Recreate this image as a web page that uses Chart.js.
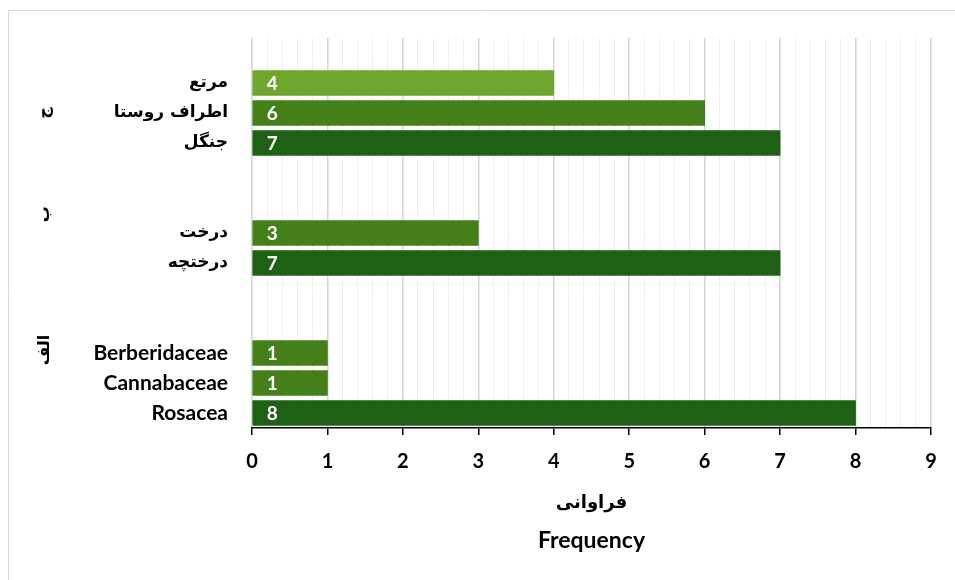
<!DOCTYPE html>
<html>
<head>
<meta charset="utf-8">
<script src="https://cdn.jsdelivr.net/npm/chart.js@4"></script>
<style>
  html, body { margin: 0; padding: 0; background: #fff; }
  #wrap { width: 955px; height: 580px; }
</style>
</head>
<body>
<div id="wrap"><canvas id="myChart" width="955" height="580"></canvas></div>
<script>
"use strict";
// Categories (blank slots separate the groups)
const categories = ["", "مرتع", "اطراف روستا", "جنگل", "", "", "درخت", "درختچه", "", "", "Berberidaceae", "Cannabaceae", "Rosacea"];
const frequency = [null, 4, 6, 7, null, null, 3, 7, null, null, 1, 1, 8];
const barColors = ["#fff", "#6ea62e", "#447f1a", "#1e6114", "#fff", "#fff", "#447f1a", "#1e6114", "#fff", "#fff", "#447f1a", "#447f1a", "#1e6114"];
const groupLabels = ["ج", "ب", "الف"];
const groupAnchors = [2, 5.37, 9.9];
const axisTitle = ["فراوانی", "Frequency"];

const LATIN = "Lato, 'DejaVu Sans', sans-serif";
const ARABIC = "'DejaVu Sans', sans-serif";
const isInt = v => Math.abs(v - Math.round(v)) < 1e-6;
const isLatin = s => /^[A-Za-z]/.test(s);

// Extras: frame, value labels, group labels, axis title
const extras = {
    id: "extras",
    beforeDraw(chart) {
        const ctx = chart.ctx;
        ctx.save();
        ctx.strokeStyle = "#d9d9d9";
        ctx.lineWidth = 1;
        ctx.beginPath();
        ctx.moveTo(8.5, 580);
        ctx.lineTo(8.5, 10.5);
        ctx.lineTo(955, 10.5);
        ctx.stroke();
        ctx.restore();
    },
    afterDatasetsDraw(chart) {
        const ctx = chart.ctx;
        const meta = chart.getDatasetMeta(0);
        const yScale = chart.scales.y;
        const area = chart.chartArea;
        ctx.save();
        ctx.font = "bold 19px " + LATIN;
        ctx.fillStyle = "#ffffff";
        ctx.textAlign = "left";
        ctx.textBaseline = "middle";
        meta.data.forEach((bar, i) => {
            if (frequency[i] == null) return;
            ctx.fillText(String(frequency[i]), bar.base + 14, bar.y + 1);
        });
        ctx.fillStyle = "#000";
        ctx.font = "bold 16px " + ARABIC;
        ctx.textAlign = "center";
        groupLabels.forEach((t, i) => {
            const y = yScale.getPixelForValue(groupAnchors[i]);
            ctx.save();
            ctx.translate(45, y);
            ctx.rotate(-Math.PI / 2);
            ctx.fillText(t, 0, 0);
            ctx.restore();
        });
        const cx = (area.left + area.right) / 2;
        ctx.font = "bold 18px " + ARABIC;
        ctx.fillText(axisTitle[0], cx, 503);
        ctx.font = "bold 23px " + LATIN;
        ctx.fillText(axisTitle[1], cx, 541);
        ctx.restore();
    }
};

const data = {
    labels: categories,
    datasets: [
        {
            label: "Frequency",
            data: frequency,
            backgroundColor: barColors,
            barThickness: 25,
        },
    ],
};

const config = {
    type: "bar",
    data: data,
    options: {
        indexAxis: "y",
        responsive: false,
        animation: false,
        layout: { padding: { top: 38, right: 24, bottom: 0, left: 0 } },
        scales: {
            x: {
                min: 0,
                max: 9,
                ticks: {
                    stepSize: 0.2,
                    autoSkip: false,
                    maxRotation: 0,
                    padding: 15,
                    color: "#000",
                    font: { family: LATIN, size: 20, weight: "bold" },
                    callback: v => isInt(v) ? String(Math.round(v)) : "",
                },
                grid: {
                    color: ctx => isInt(ctx.tick.value) ? "#d4d4d4" : "#eeeeee",
                    tickColor: ctx => isInt(ctx.tick.value) ? "#000" : "rgba(0,0,0,0)",
                    tickLength: 7,
                    lineWidth: ctx => isInt(ctx.tick.value) ? 1.5 : 1,
                },
                border: { display: true, color: "#000", width: 1.5 },
                afterFit: scale => { scale.height = 152; },
            },
            y: {
                grid: { display: false, drawTicks: false },
                border: { display: false },
                ticks: {
                    padding: 24,
                    color: "#000",
                    autoSkip: false,
                    font: ctx => {
                        const lbl = categories[ctx.index] || "";
                        return isLatin(lbl)
                            ? { family: LATIN, size: 21, weight: "bold" }
                            : { family: ARABIC, size: 17, weight: "bold" };
                    },
                },
                afterFit: scale => { scale.width = 252; },
            },
        },
        plugins: {
            legend: { display: false },
            tooltip: { enabled: false },
        },
    },
    plugins: [extras],
};

const myChart = new Chart(document.getElementById("myChart"), config);
</script>
</body>
</html>
